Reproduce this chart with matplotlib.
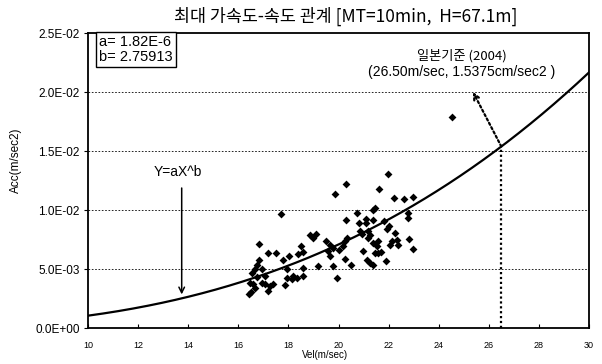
import numpy as np
import matplotlib
matplotlib.use("Agg")
import matplotlib.pyplot as plt

plt.rcParams['font.family'] = ['Liberation Sans', 'Noto Sans CJK KR', 'DejaVu Sans']

# ---- data ----
a_coef = 1.82e-6
b_coef = 2.75913

vel = [21.96, 20.29, 19.86, 21.63, 22.23, 22.63, 22.98, 17.69, 21.46, 21.37,
       20.72, 20.31, 21.10, 21.37, 21.10, 20.83, 21.82, 22.01, 22.77, 22.76,
       20.86, 20.94, 21.19, 21.25, 21.19, 21.92, 22.26, 22.83, 22.98, 18.86,
       18.99, 19.10, 19.52, 19.66, 19.60, 19.79, 19.66, 20.35, 20.26, 20.19,
       20.00, 16.84, 17.20, 17.51, 17.79, 18.04, 18.40, 18.59, 18.49, 16.84,
       16.76, 16.67, 16.93, 16.53, 17.07, 17.94, 18.59, 18.19, 18.34, 18.13,
       19.17, 19.79, 19.95, 20.26, 20.49, 20.97, 21.46, 21.59, 21.69, 21.12,
       21.25, 21.39, 21.88, 21.39, 21.56, 21.52, 22.12, 22.32, 22.39, 22.05,
       16.46, 16.60, 16.67, 16.49, 16.42, 16.93, 17.07, 17.26, 17.39, 17.20,
       17.86, 17.94, 16.76, 18.57, 24.53]
acc_e3 = [13.08, 12.24, 11.34, 11.81, 10.98, 10.90, 11.07, 9.66, 10.17, 10.04,
          9.72, 9.16, 9.22, 9.16, 8.87, 8.88, 9.08, 8.61, 9.72, 9.30,
          8.18, 7.94, 8.18, 7.90, 7.62, 8.38, 8.07, 7.54, 6.72, 7.90,
          7.62, 7.96, 7.34, 7.06, 6.50, 6.78, 6.08, 7.62, 7.34, 6.92,
          6.64, 7.14, 6.36, 6.36, 5.80, 6.08, 6.28, 6.47, 6.97, 5.80,
          5.38, 4.96, 4.96, 4.62, 4.39, 5.02, 4.39, 4.39, 4.26, 4.12,
          5.29, 5.24, 4.26, 5.86, 5.38, 6.50, 6.36, 6.36, 6.47, 5.80,
          5.52, 5.38, 5.66, 7.20, 7.34, 6.92, 7.39, 7.48, 7.06, 7.06,
          3.84, 3.70, 3.42, 3.05, 2.90, 3.84, 3.70, 3.55, 3.70, 3.13,
          3.61, 4.26, 4.29, 5.10, 17.88]
acc = [v * 1e-3 for v in acc_e3]

x_ticks = [10, 12, 14, 16, 18, 20, 22, 24, 26, 28, 30]
y_ticks = [0.0, 0.005, 0.010, 0.015, 0.020, 0.025]
y_tick_labels = ["0.0E+00", "5.0E-03", "1.0E-02", "1.5E-02", "2.0E-02", "2.5E-02"]

jp_vel = 26.5
fit_arrow_x = 13.74

# ---- figure ----
fig = plt.figure(figsize=(6.02, 3.64), dpi=100)
ax = fig.add_axes([0.1462, 0.0989, 0.8322, 0.8104])

xc = np.linspace(10, 30, 300)
ax.plot(xc, a_coef * xc ** b_coef, color='black', lw=1.6, zorder=3)
ax.scatter(vel, acc, marker='D', s=16, color='black', zorder=4, linewidths=0)

ax.set_xlim(10, 30)
ax.set_ylim(0, 0.025)
ax.set_xticks(x_ticks)
ax.set_xticklabels([str(t) for t in x_ticks], fontsize=6.5)
ax.set_yticks(y_ticks)
ax.set_yticklabels(y_tick_labels, fontsize=8.5)
ax.tick_params(axis='x', direction='in', length=3, pad=9)
ax.tick_params(axis='y', direction='out', length=3, pad=3)
for yv in y_ticks[1:-1]:
    ax.axhline(yv, color='black', lw=0.6, ls=(0, (2, 2)), zorder=1)
for sp in ax.spines.values():
    sp.set_linewidth(1.3)

ax.set_xlabel("Vel(m/sec)", fontsize=7)
ax.xaxis.set_label_coords(0.473, -0.075)
ax.set_ylabel("Acc(m/sec2)", fontsize=8.5)
ax.yaxis.set_label_coords(-0.132, 0.57)

fig.text(0.575, 0.955, "최대 가속도-속도 관계 [MT=10min,  H=67.1m]",
         ha='center', va='center', fontsize=12.5,
         family=['Noto Sans CJK KR', 'DejaVu Sans'])

ax.text(0.022, 0.993, "a= 1.82E-6\nb= 2.75913", transform=ax.transAxes,
        ha='left', va='top', fontsize=10.5, linespacing=1.05,
        bbox=dict(boxstyle='square,pad=0.2', fc='white', ec='black', lw=1.0))

# fit arrow
y_fit = a_coef * fit_arrow_x ** b_coef
ax.annotate("", xy=(fit_arrow_x, y_fit + 0.0001), xytext=(fit_arrow_x, 0.0121),
            arrowprops=dict(arrowstyle='->', color='black', lw=1.1))
ax.text(fit_arrow_x - 0.15, 0.0132, "Y=aX^b", ha='center', va='center', fontsize=10)

# Japanese standard dotted arrow
y_jp = a_coef * jp_vel ** b_coef
ax.plot([jp_vel, jp_vel], [0, y_jp], color='black', lw=1.6, ls=(0, (1, 1.2)), zorder=2)
ax.annotate("", xy=(25.37, 0.0200), xytext=(jp_vel, y_jp),
            arrowprops=dict(arrowstyle='->', color='black', lw=1.6,
                            linestyle=(0, (1, 1.2)), shrinkA=0, shrinkB=0))
ax.text(24.93, 0.0231, "일본기준 (2004)", ha='center', va='center', fontsize=9.5,
        family=['Noto Sans CJK KR', 'DejaVu Sans'])
ax.text(24.93, 0.0217, "(26.50m/sec, 1.5375cm/sec2 )", ha='center', va='center',
        fontsize=10)

fig.savefig("out.png", dpi=100)
